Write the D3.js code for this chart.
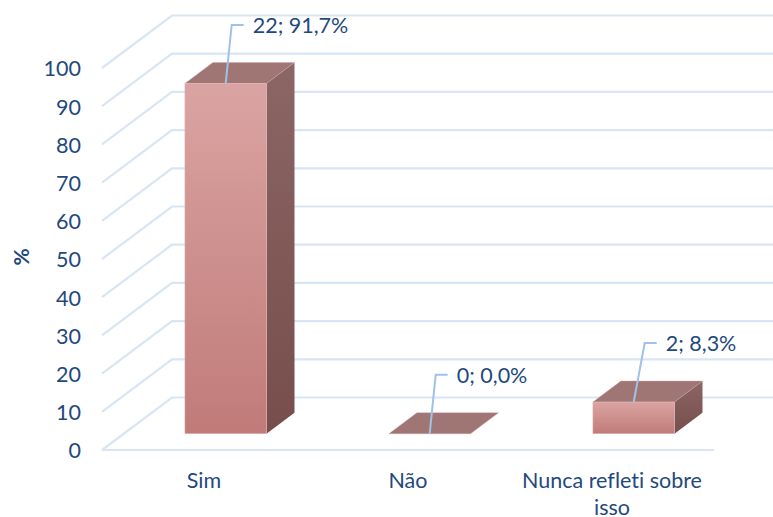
<!DOCTYPE html>
<html><head><meta charset="utf-8">
<script src="https://cdn.jsdelivr.net/npm/d3@7"></script>
<style>html,body{margin:0;padding:0;background:#fff}svg{display:block}text{font-family:Lato,"Open Sans",sans-serif;fill:#1f497d;font-variant-ligatures:none}</style>
</head><body><svg id="c" width="773" height="517"></svg>
<script>
const categories = ["Sim", "Não", "Nunca refleti sobre isso"];
const categoryLines = [["Sim"], ["Não"], ["Nunca refleti sobre", "isso"]];
const counts = [22, 0, 2];
const percents = [91.7, 0.0, 8.3];
const yTicks = [0,10,20,30,40,50,60,70,80,90,100];

const svg = d3.select("#c");
const W = 773, H = 517;
const x = d3.scaleBand().domain(categories).range([102,714]).paddingInner(0.6).paddingOuter(0.3);
const y = d3.scaleLinear().domain([0,100]).range([450,68]);
const depthX = d3.scaleLinear().domain([0,1]).range([0,70]);
const depthY = d3.scaleLinear().domain([0,1]).range([0,-52.5]);
const px = (xv,d) => xv + depthX(d);
const py = (v,d) => y(v) + depthY(d);
const dFront = 0.31, dBack = 0.71;

const defs = svg.append("defs");
function grad(id, a, b){
  const g = defs.append("linearGradient").attr("id",id).attr("x1",0).attr("y1",0).attr("x2",0).attr("y2",1);
  g.append("stop").attr("offset","0%").attr("stop-color",a);
  g.append("stop").attr("offset","100%").attr("stop-color",b);
}
grad("front","#daa4a2","#c07b79");
grad("side","#8b6664","#774e4c");
defs.append("clipPath").attr("id","plot").append("rect").attr("width",W).attr("height",H);

const gridColor = "#d9e5f4";
const grid = svg.append("g").attr("fill","none").attr("stroke",gridColor).attr("stroke-width",2.2).attr("clip-path","url(#plot)");
const xL = x.range()[0], xR = x.range()[1];
grid.selectAll("path.w").data(yTicks).join("path").attr("class","w")
  .attr("d", t => d3.line()([[px(xL,0),py(t,0)],[px(xL,1),py(t,1)],[px(xR,1),py(t,1)]]));
grid.append("path").attr("d", d3.line()([[px(xL,0),py(0,0)],[px(xR,0),py(0,0)]]));

const line = d3.line();
const bars = svg.append("g").selectAll("g").data(categories).join("g");
const x0 = c => x(c), x1 = c => x(c)+x.bandwidth();
const val = i => percents[i];

bars.append("path").attr("fill","url(#side)")
  .attr("d",(c,i)=> percents[i] > 0 ? line([[px(x1(c),dFront),py(0,dFront)],[px(x1(c),dBack),py(0,dBack)],[px(x1(c),dBack),py(val(i),dBack)],[px(x1(c),dFront),py(val(i),dFront)]])+"Z" : null);
bars.append("path").attr("fill","#a07674").attr("stroke","#c9a5a3").attr("stroke-width",0.4)
  .attr("d",(c,i)=> line([[px(x0(c),dFront),py(val(i),dFront)],[px(x1(c),dFront),py(val(i),dFront)],[px(x1(c),dBack),py(val(i),dBack)],[px(x0(c),dBack),py(val(i),dBack)]])+"Z");
bars.filter((c,i)=>percents[i]>0).append("rect").attr("fill","url(#front)").attr("stroke","#e3bcbb").attr("stroke-width",0.5)
  .attr("x",c=>px(x0(c),dFront)).attr("width",x.bandwidth())
  .attr("y",c=>py(val(categories.indexOf(c)),dFront))
  .attr("height",c=>py(0,dFront)-py(val(categories.indexOf(c)),dFront));

// leader lines and data labels
const leadElbowX = [6,6,11], leadElbowY = [58.5,59,59], leadEndX = 12;
const fmt = v => v.toFixed(1).replace(".",",");
const labels = svg.append("g");
categories.forEach((c,i)=>{
  const ax = px(x0(c),dFront)+x.bandwidth()/2, ay = py(val(i),dFront);
  const ex = ax+leadElbowX[i], ey = ay-leadElbowY[i];
  labels.append("path").attr("fill","none").attr("stroke","#9fc2e8").attr("stroke-width",2)
    .attr("d",line([[ax,ay],[ex,ey],[ex+leadEndX,ey]]));
  labels.append("text").attr("x",ex+leadEndX+9).attr("y",ey+3).attr("dominant-baseline","middle")
    .attr("font-size",21.5).text(`${counts[i]}; ${fmt(percents[i])}%`);
});

// axes
const yAxis = d3.axisLeft(y).tickValues(yTicks).tickSize(0).tickPadding(0);
const ga = svg.append("g").attr("transform","translate(81,1)").call(yAxis);
ga.select(".domain").remove();
ga.selectAll("text").attr("font-size",21.5).style("font-family","Lato").style("fill","#1f497d");

const gx = svg.append("g");
categories.forEach((c,i)=>{
  const cx = x(c)+x.bandwidth()/2;
  categoryLines[i].forEach((l,j)=>{
    gx.append("text").attr("x",cx).attr("y",488+j*27).attr("text-anchor","middle")
      .attr("font-size",21.5).text(l);
  });
});
svg.append("text").attr("transform","translate(29,257) rotate(-90)").attr("text-anchor","middle")
  .attr("font-size",21).attr("font-weight","700").text("%");
</script></body></html>
